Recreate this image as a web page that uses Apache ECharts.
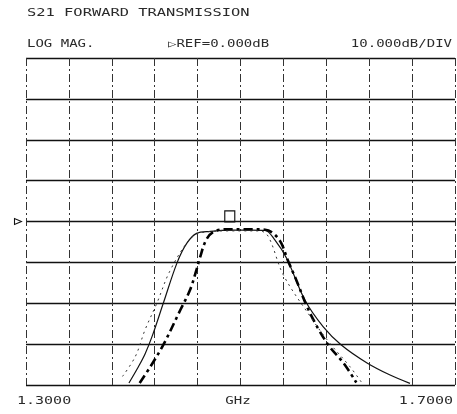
<!DOCTYPE html>
<html>
<head>
<meta charset="utf-8">
<script src="https://cdn.jsdelivr.net/npm/echarts@6/dist/echarts.min.js"></script>
<style>
  html, body { margin: 0; padding: 0; background: #fff; }
  #chart { width: 457px; height: 414px; }
</style>
</head>
<body>
<div id="chart"></div>
<script>
// S21 traces (frequency in GHz, magnitude in dB)
const solidFreq = [1.396, 1.404, 1.411, 1.418, 1.428, 1.441, 1.450, 1.459, 1.472, 1.490, 1.510, 1.523, 1.532, 1.543, 1.560, 1.577, 1.594, 1.618, 1.639, 1.658];
const solidDb   = [-39.5, -35.9, -32.4, -27.8, -20.0, -10.0, -5.3, -2.9, -2.4, -2.1, -2.1, -2.2, -4.5, -9.0, -19.2, -25.7, -30.2, -34.6, -37.5, -39.6];

const dashFreq = [1.406, 1.416, 1.428, 1.444, 1.453, 1.459, 1.462, 1.468, 1.475, 1.488, 1.505, 1.523, 1.531, 1.538, 1.544, 1.552, 1.562, 1.572, 1.583, 1.596, 1.608];
const dashDb   = [-39.5, -35.5, -30.2, -21.6, -16.7, -11.8, -9.0, -4.5, -2.5, -1.9, -1.9, -2.0, -3.0, -5.3, -9.4, -14.3, -20.8, -26.0, -30.6, -34.6, -39.4];

const dotFreq = [1.390, 1.402, 1.411, 1.422, 1.434, 1.451, 1.462, 1.490, 1.518, 1.526, 1.540, 1.566, 1.583, 1.602, 1.613];
const dotDb   = [-37.9, -33.0, -26.5, -20.0, -12.2, -4.9, -2.8, -2.3, -2.3, -3.7, -13.1, -23.6, -29.7, -35.5, -39.4];

// marker position and reference level
const markerFreq = 1.490;
const markerDb = -1.9;
const refLevel = 0;

// texts
const titleText = 'S21 FORWARD TRANSMISSION';
const headerTexts = ['LOG MAG.', '\u25B7REF=0.000dB', '10.000dB/DIV'];
const freqLabels = ['1.3000', 'GHz', '1.7000'];

const pairs = (f, d) => f.map((x, i) => [x, d[i]]);

const chart = echarts.init(document.getElementById('chart'), null, { renderer: 'canvas' });

const font = 'DejaVu Sans Mono';
// plotter style text: narrow mono font stretched sideways
function txt(text, x, y, size, align, sx) {
  return {
    type: 'text', x: x, y: y, scaleX: sx,
    style: {
      text: text, fill: '#2a2a2a',
      font: size + 'px "' + font + '"',
      textAlign: align, textVerticalAlign: 'middle'
    }
  };
}

const option = {
  animation: false,
  backgroundColor: '#fff',
  grid: { left: 26, right: 2, top: 58, bottom: 29 },
  xAxis: {
    type: 'value', min: 1.3, max: 1.7, interval: 0.04,
    axisLine: { show: false }, axisTick: { show: false }, axisLabel: { show: false },
    splitLine: { show: true, lineStyle: { color: '#333', width: 1, type: [8, 3, 2, 3] } }
  },
  yAxis: {
    type: 'value', min: -40, max: 40, interval: 10,
    axisLine: { show: false }, axisTick: { show: false }, axisLabel: { show: false },
    splitLine: { show: true, lineStyle: { color: '#111', width: 1.4 } }
  },
  series: [
    {
      name: 'thin', type: 'line', data: pairs(solidFreq, solidDb),
      showSymbol: false, smooth: 0.35,
      lineStyle: { color: '#111', width: 1.2 },
      markPoint: {
        symbol: 'triangle', symbolSize: [6, 7], symbolRotate: -90, symbolOffset: [-8, 0],
        itemStyle: { color: '#fff', borderColor: '#111', borderWidth: 1 },
        label: { show: false },
        data: [{ coord: [1.3, refLevel] }]
      }
    },
    {
      name: 'dashdot', type: 'line', data: pairs(dashFreq, dashDb),
      showSymbol: false, smooth: 0.35,
      lineStyle: { color: '#000', width: 2.6, type: [9, 4, 3, 4] },
      markPoint: {
        symbol: 'rect', symbolSize: [10, 11], symbolOffset: [0, -13],
        itemStyle: { color: 'rgba(0,0,0,0)', borderColor: '#111', borderWidth: 1.2 },
        label: { show: false },
        data: [{ coord: [markerFreq, markerDb] }]
      }
    },
    {
      name: 'dotted', type: 'line', data: pairs(dotFreq, dotDb),
      showSymbol: false, smooth: 0.35,
      lineStyle: { color: '#333', width: 1, type: [2, 4] }
    }
  ],
  graphic: [
    txt(titleText, 27, 13, 11, 'left', 1.4),
    txt(headerTexts[0], 27, 44, 10, 'left', 1.4),
    txt(headerTexts[1], 168, 44, 10, 'left', 1.4),
    txt(headerTexts[2], 452, 44, 10, 'right', 1.4),
    txt(freqLabels[0], 17, 401, 10, 'left', 1.5),
    txt(freqLabels[1], 238, 401, 10, 'center', 1.4),
    txt(freqLabels[2], 453, 401, 10, 'right', 1.5)
  ]
};

chart.setOption(option);
</script>
</body>
</html>
